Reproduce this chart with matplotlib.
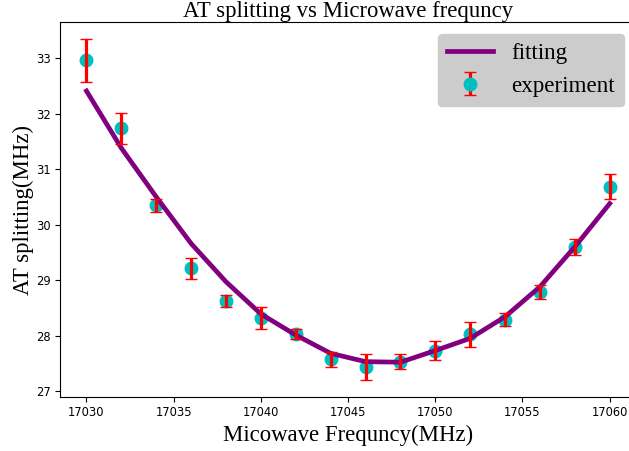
import numpy as np
import matplotlib
matplotlib.use("Agg")
import matplotlib.pyplot as plt

###Data
freq = [17030, 17032, 17034, 17036, 17038, 17040, 17042, 17044,
        17046, 17048, 17050, 17052, 17054, 17056, 17058, 17060]
splitting = [32.96, 31.74, 30.35, 29.21, 28.62, 28.31, 28.03, 27.57,
             27.44, 27.53, 27.73, 28.02, 28.29, 28.79, 29.59, 30.68]
split_err = [0.38, 0.28, 0.12, 0.19, 0.11, 0.20, 0.085, 0.135,
             0.235, 0.14, 0.165, 0.23, 0.125, 0.13, 0.145, 0.225]
fitting = [32.41, 31.38, 30.50, 29.66, 28.97, 28.39, 28.01, 27.68,
           27.53, 27.52, 27.73, 27.95, 28.34, 28.88, 29.60, 30.38]

serif = "Liberation Serif"

fig = plt.figure(figsize=(6.29, 4.51), dpi=100)
ax = fig.add_axes([0.0959, 0.1204, 0.915, 0.830])

ax.plot(freq, fitting, color='purple', lw=3.4, label='fitting')
ax.errorbar(freq, splitting, yerr=split_err, fmt='co', ms=9, ecolor='r',
            elinewidth=2.3, capsize=4, barsabove=True, label='experiment')

ax.set_title('AT splitting vs Microwave frequncy', fontsize=16.4, family=serif, pad=3)
ax.set_xlabel('Micowave Frequncy(MHz)', fontsize=16.4, family=serif)
ax.set_ylabel('AT splitting(MHz)', fontsize=16.4, family=serif, labelpad=1.5)
ax.tick_params(axis='both', which='major', labelsize=8.3)

leg = ax.legend(loc='upper right', prop={'family': serif, 'size': 16.6},
                facecolor='0.8', edgecolor='0.8', framealpha=1)

fig.savefig('out.png', dpi=100)
